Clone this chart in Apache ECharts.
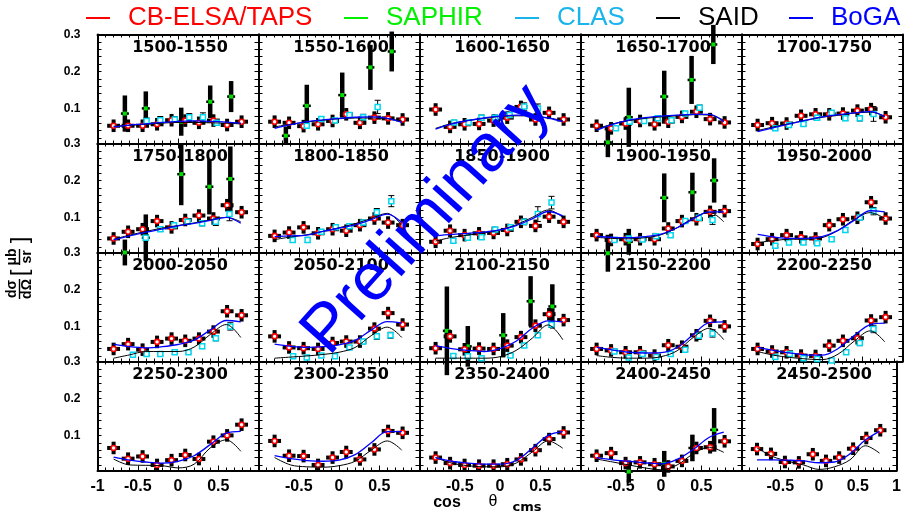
<!DOCTYPE html>
<html>
<head>
<meta charset="utf-8">
<script src="https://cdn.jsdelivr.net/npm/echarts@6/dist/echarts.min.js"></script>
<style>
  html, body { margin: 0; padding: 0; background: #fff; }
  #chart { width: 904px; height: 512px; }
</style>
</head>
<body>
<div id="chart"></div>
<script>
// Energy bins (MeV), one panel each
const BINS = ['1500-1550', '1550-1600', '1600-1650', '1650-1700', '1700-1750',
              '1750-1800', '1800-1850', '1850-1900', '1900-1950', '1950-2000',
              '2000-2050', '2050-2100', '2100-2150', '2150-2200', '2200-2250',
              '2250-2300', '2300-2350', '2350-2400', '2400-2450', '2450-2500'];

// CB-ELSA/TAPS angular bins (cos theta_cms) and cross sections (ub/sr)
const ELSA_COS = [-0.8, -0.62, -0.44, -0.26, -0.08, 0.09, 0.26, 0.44, 0.61, 0.79];
const ELSA = [
  [0.053, 0.053, 0.053, 0.057, 0.068, 0.067, 0.061, 0.067, 0.055, 0.064],
  [0.064, 0.061, 0.052, 0.057, 0.066, 0.084, 0.061, 0.075, 0.073, 0.070],
  [0.097, 0.050, 0.057, 0.058, 0.067, 0.075, 0.104, 0.070, 0.088, 0.070],
  [0.053, 0.046, 0.059, 0.066, 0.057, 0.064, 0.077, 0.091, 0.071, 0.062],
  [0.055, 0.060, 0.059, 0.080, 0.084, 0.084, 0.086, 0.094, 0.098, 0.076],
  [0.043, 0.061, 0.068, 0.090, 0.073, 0.093, 0.105, 0.097, 0.133, 0.114],
  [0.050, 0.059, 0.073, 0.057, 0.068, 0.064, 0.079, 0.097, 0.086, 0.079],
  [0.034, 0.064, 0.052, 0.057, 0.058, 0.066, 0.088, 0.077, 0.102, 0.088],
  [0.052, 0.039, 0.041, 0.041, 0.041, 0.070, 0.090, 0.095, 0.115, 0.117],
  [0.028, 0.041, 0.052, 0.046, 0.043, 0.079, 0.095, 0.099, 0.141, 0.097],
  [0.039, 0.052, 0.037, 0.058, 0.067, 0.061, 0.067, 0.086, 0.141, 0.130],
  [0.073, 0.043, 0.041, 0.039, 0.055, 0.059, 0.059, 0.094, 0.136, 0.105],
  [0.041, 0.073, 0.038, 0.040, 0.039, 0.048, 0.071, 0.102, 0.133, 0.117],
  [0.039, 0.035, 0.030, 0.030, 0.021, 0.049, 0.045, 0.076, 0.115, 0.100],
  [0.039, 0.032, 0.030, 0.021, 0.020, 0.048, 0.061, 0.068, 0.116, 0.125],
  [0.066, 0.037, 0.043, 0.020, 0.033, 0.047, 0.036, 0.083, 0.100, 0.129],
  [0.085, 0.045, 0.044, 0.020, 0.040, 0.055, 0.035, 0.062, 0.112, 0.107],
  [0.040, 0.025, 0.020, 0.018, 0.018, 0.022, 0.035, 0.060, 0.090, 0.108],
  [0.045, 0.052, 0.025, 0.027, 0.022, 0.016, 0.031, 0.066, 0.068, 0.084],
  [0.063, 0.050, 0.028, 0.027, 0.049, 0.031, 0.040, 0.064, 0.093, 0.114]
];
const ELSA_DCOS = 0.08;   // half bin width
const ELSA_ERR = 0.017;   // statistical error

// SAPHIR points: [cos, value, error]
const SAPHIR = [
  [[-0.66, 0.086, 0.049], [-0.4, 0.100, 0.046], [0.04, 0.064, 0.038], [0.4, 0.118, 0.044], [0.66, 0.132, 0.042]],
  [[-0.66, 0.026, 0.025], [-0.4, 0.107, 0.057], [0.04, 0.136, 0.061], [0.39, 0.211, 0.061], [0.655, 0.254, 0.054]],
  [],
  [[-0.66, 0.008, 0.040], [-0.4, 0.076, 0.080], [0.04, 0.132, 0.070], [0.38, 0.177, 0.065], [0.65, 0.273, 0.053]],
  [],
  [[-0.66, 0.005, 0.035], [-0.4, 0.045, 0.063], [0.04, 0.217, 0.084], [0.39, 0.183, 0.075], [0.65, 0.204, 0.088]],
  [], [],
  [[-0.66, 0.003, 0.050], [-0.4, 0.034, 0.035], [0.04, 0.153, 0.066], [0.39, 0.168, 0.053], [0.66, 0.200, 0.060]],
  [], [], [],
  [[-0.66, 0.088, 0.120], [-0.4, 0.046, 0.055], [0.04, 0.076, 0.060], [0.38, 0.168, 0.068], [0.65, 0.154, 0.060]],
  [], [], [], [], [],
  [[-0.4, 0.002, 0.030], [0.04, 0.023, 0.035], [0.39, 0.066, 0.036], [0.66, 0.115, 0.059]],
  []
];

// CLAS points: [cos, value, error]
const CLAS = [
  [[-0.39, 0.066, 0.008], [-0.22, 0.068, 0.010], [-0.04, 0.070, 0.008], [0.14, 0.076, 0.010], [0.31, 0.076, 0.012], [0.48, 0.061, 0.006]],
  [[-0.4, 0.053, 0.006], [-0.22, 0.071, 0.006], [-0.05, 0.067, 0.006], [0.13, 0.082, 0.006], [0.3, 0.076, 0.008], [0.48, 0.104, 0.018]],
  [[-0.57, 0.062, 0.006], [-0.39, 0.062, 0.006], [-0.23, 0.075, 0.007], [-0.06, 0.075, 0.007], [0.12, 0.082, 0.008], [0.3, 0.105, 0.010], [0.47, 0.100, 0.012]],
  [[-0.56, 0.046, 0.005], [-0.39, 0.064, 0.006], [-0.21, 0.066, 0.005], [-0.04, 0.073, 0.006], [0.13, 0.068, 0.006], [0.3, 0.086, 0.006], [0.48, 0.102, 0.007]],
  [[-0.58, 0.046, 0.005], [-0.41, 0.055, 0.005], [-0.23, 0.058, 0.005], [-0.06, 0.075, 0.006], [0.12, 0.088, 0.006], [0.29, 0.073, 0.006], [0.47, 0.073, 0.007], [0.64, 0.085, 0.020]],
  [[-0.4, 0.045, 0.008], [-0.22, 0.068, 0.006], [-0.05, 0.079, 0.006], [0.12, 0.088, 0.006], [0.3, 0.084, 0.007], [0.47, 0.088, 0.010], [0.64, 0.109, 0.018]],
  [[-0.575, 0.039, 0.006], [-0.39, 0.039, 0.007], [-0.22, 0.061, 0.005], [-0.04, 0.073, 0.007], [0.13, 0.076, 0.006], [0.3, 0.086, 0.007], [0.47, 0.114, 0.010], [0.65, 0.144, 0.015]],
  [[-0.58, 0.037, 0.005], [-0.4, 0.045, 0.005], [-0.23, 0.046, 0.005], [-0.06, 0.067, 0.006], [0.13, 0.073, 0.007], [0.3, 0.088, 0.008], [0.47, 0.109, 0.020], [0.64, 0.140, 0.017]],
  [[-0.58, 0.039, 0.005], [-0.4, 0.043, 0.005], [-0.23, 0.040, 0.005], [-0.06, 0.049, 0.005], [0.12, 0.052, 0.006], [0.3, 0.090, 0.006], [0.47, 0.099, 0.007], [0.64, 0.093, 0.012]],
  [[-0.58, 0.023, 0.004], [-0.41, 0.032, 0.005], [-0.23, 0.032, 0.005], [-0.06, 0.030, 0.005], [0.12, 0.041, 0.005], [0.29, 0.066, 0.006], [0.47, 0.100, 0.007], [0.64, 0.117, 0.010]],
  [[-0.56, 0.023, 0.004], [-0.39, 0.025, 0.004], [-0.22, 0.025, 0.004], [-0.04, 0.030, 0.005], [0.13, 0.030, 0.004], [0.3, 0.046, 0.006], [0.47, 0.068, 0.007], [0.65, 0.100, 0.010]],
  [[-0.57, 0.019, 0.004], [-0.4, 0.016, 0.004], [-0.22, 0.021, 0.004], [-0.05, 0.019, 0.004], [0.13, 0.043, 0.005], [0.3, 0.059, 0.006], [0.47, 0.073, 0.008], [0.64, 0.076, 0.008]],
  [[-0.58, 0.020, 0.004], [-0.4, 0.019, 0.004], [-0.23, 0.014, 0.004], [0.13, 0.021, 0.004], [0.3, 0.048, 0.005], [0.47, 0.076, 0.006], [0.64, 0.105, 0.008]],
  [[-0.58, 0.032, 0.004], [-0.4, 0.016, 0.004], [-0.23, 0.025, 0.004], [-0.06, 0.017, 0.004], [0.12, 0.025, 0.005], [0.3, 0.037, 0.005], [0.47, 0.075, 0.010], [0.64, 0.081, 0.010]],
  [[-0.58, 0.017, 0.004], [-0.4, 0.025, 0.004], [-0.23, 0.014, 0.004], [-0.06, 0.012, 0.004], [0.12, 0.008, 0.004], [0.3, 0.030, 0.005], [0.47, 0.055, 0.007], [0.64, 0.093, 0.010]],
  [], [], [], [], []
];

// Model curves sampled in cos theta_cms
const MODEL_COS = [-0.8, -0.6, -0.4, -0.2, 0, 0.2, 0.4, 0.6, 0.78];
const SAID = [
  [0.052, 0.054, 0.057, 0.060, 0.062, 0.062, 0.061, 0.060, 0.058],
  [0.050, 0.057, 0.063, 0.068, 0.072, 0.074, 0.074, 0.072, 0.066],
  [0.046, 0.059, 0.067, 0.073, 0.078, 0.080, 0.079, 0.074, 0.067],
  [0.044, 0.058, 0.067, 0.073, 0.077, 0.080, 0.083, 0.082, 0.068],
  [0.040, 0.050, 0.059, 0.068, 0.076, 0.082, 0.087, 0.090, 0.079],
  [0.041, 0.052, 0.062, 0.071, 0.078, 0.085, 0.093, 0.100, 0.088],
  [0.040, 0.047, 0.053, 0.062, 0.072, 0.083, 0.097, 0.111, 0.078],
  [0.036, 0.046, 0.052, 0.058, 0.066, 0.080, 0.100, 0.120, 0.100],
  [0.046, 0.043, 0.042, 0.045, 0.053, 0.072, 0.098, 0.114, 0.088],
  [0.032, 0.037, 0.041, 0.041, 0.045, 0.065, 0.094, 0.113, 0.097],
  [0.014, 0.023, 0.032, 0.032, 0.032, 0.044, 0.078, 0.105, 0.070],
  [0.014, 0.017, 0.020, 0.024, 0.030, 0.043, 0.075, 0.098, 0.070],
  [0.014, 0.014, 0.014, 0.014, 0.018, 0.035, 0.068, 0.104, 0.064],
  [0.021, 0.016, 0.014, 0.014, 0.018, 0.034, 0.070, 0.095, 0.064],
  [0.032, 0.022, 0.016, 0.012, 0.010, 0.025, 0.060, 0.088, 0.058],
  [0.036, 0.020, 0.019, 0.018, 0.012, 0.022, 0.066, 0.088, 0.057],
  [0.040, 0.020, 0.015, 0.014, 0.018, 0.030, 0.060, 0.085, 0.060],
  [0.040, 0.025, 0.018, 0.015, 0.015, 0.025, 0.055, 0.085, 0.065],
  [0.036, 0.028, 0.020, 0.012, 0.007, 0.020, 0.050, 0.068, 0.054],
  [0.066, 0.043, 0.030, 0.020, 0.008, 0.015, 0.034, 0.072, 0.052]
];
const BOGA = [
  [0.050, 0.055, 0.058, 0.062, 0.065, 0.066, 0.065, 0.063, 0.060],
  [0.046, 0.056, 0.064, 0.069, 0.073, 0.076, 0.077, 0.073, 0.062],
  [0.044, 0.058, 0.067, 0.074, 0.079, 0.082, 0.080, 0.074, 0.064],
  [0.041, 0.057, 0.068, 0.075, 0.079, 0.082, 0.084, 0.084, 0.064],
  [0.037, 0.048, 0.058, 0.068, 0.077, 0.083, 0.088, 0.091, 0.077],
  [0.039, 0.050, 0.060, 0.068, 0.077, 0.084, 0.092, 0.100, 0.084],
  [0.048, 0.050, 0.052, 0.062, 0.071, 0.080, 0.094, 0.109, 0.086],
  [0.050, 0.054, 0.057, 0.060, 0.066, 0.078, 0.096, 0.116, 0.104],
  [0.049, 0.046, 0.045, 0.048, 0.055, 0.072, 0.096, 0.115, 0.115],
  [0.054, 0.047, 0.043, 0.043, 0.048, 0.065, 0.092, 0.118, 0.115],
  [0.052, 0.045, 0.042, 0.045, 0.051, 0.063, 0.090, 0.116, 0.112],
  [0.052, 0.046, 0.043, 0.045, 0.050, 0.062, 0.090, 0.113, 0.109],
  [0.048, 0.040, 0.035, 0.032, 0.040, 0.060, 0.095, 0.115, 0.112],
  [0.043, 0.036, 0.030, 0.028, 0.029, 0.043, 0.078, 0.110, 0.112],
  [0.043, 0.035, 0.028, 0.023, 0.022, 0.040, 0.075, 0.105, 0.109],
  [0.041, 0.033, 0.028, 0.025, 0.030, 0.045, 0.075, 0.106, 0.111],
  [0.045, 0.037, 0.032, 0.030, 0.033, 0.048, 0.080, 0.110, 0.110],
  [0.040, 0.030, 0.025, 0.022, 0.022, 0.032, 0.065, 0.100, 0.110],
  [0.040, 0.034, 0.030, 0.026, 0.023, 0.035, 0.062, 0.095, 0.109],
  [0.034, 0.034, 0.033, 0.031, 0.026, 0.028, 0.050, 0.088, 0.111]
];

// Axis tick labels
const Y_LABELS = [0.1, 0.2, 0.3];
const Y_TICKS = [0.02, 0.04, 0.06, 0.08, 0.1, 0.12, 0.14, 0.16, 0.18, 0.2, 0.22, 0.24, 0.26, 0.28];
const X_LABELS_FIRST = [-1, -0.5, 0, 0.5];
const X_LABELS_MID = [-0.5, 0, 0.5];
const X_LABELS_LAST = [-0.5, 0, 0.5, 1];

const LEGEND = [
  { name: 'CB-ELSA/TAPS', color: '#ff0000' },
  { name: 'SAPHIR', color: '#00f000' },
  { name: 'CLAS', color: '#1ab4ec' },
  { name: 'SAID', color: '#000000' },
  { name: 'BoGA', color: '#0000ff' }
];

// ---- layout ----
const PANEL_LEFT = 97.5, PANEL_TOP = 34.5, PANEL_W = 161, PANEL_H = 109;
const Y_MIN = 0.005, Y_MAX = 0.3;
const TICK_FONT = '"Liberation Sans", Arial, sans-serif';
const TITLE_FONT = '"DejaVu Sans", sans-serif';

const grids = [], xAxes = [], yAxes = [], series = [], titles = [];

function renderElsa(params, api) {
  const x = api.value(0), y = api.value(1);
  const c = api.coord([x, y]);
  const l = api.coord([x - ELSA_DCOS, y]), r = api.coord([x + ELSA_DCOS, y]);
  const t = api.coord([x, y + ELSA_ERR]), b = api.coord([x, y - ELSA_ERR]);
  return { type: 'group', children: [
    { type: 'line', shape: { x1: l[0], y1: c[1], x2: r[0], y2: c[1] }, style: { stroke: '#000', lineWidth: 4 } },
    { type: 'line', shape: { x1: c[0], y1: t[1], x2: c[0], y2: b[1] }, style: { stroke: '#000', lineWidth: 4 } },
    { type: 'circle', shape: { cx: c[0], cy: c[1], r: 2.5 }, style: { fill: '#fff', stroke: '#ff0000', lineWidth: 1.6 } }
  ] };
}

function renderSaphir(params, api) {
  const x = api.value(0), y = api.value(1), e = api.value(2);
  const c = api.coord([x, y]);
  const t = api.coord([x, y + e]), b = api.coord([x, y - e]);
  return { type: 'group', children: [
    { type: 'line', shape: { x1: c[0], y1: t[1], x2: c[0], y2: b[1] }, style: { stroke: '#000', lineWidth: 4.5 } },
    { type: 'line', shape: { x1: c[0] - 4, y1: c[1], x2: c[0] + 4, y2: c[1] }, style: { stroke: '#000', lineWidth: 2.5 } },
    { type: 'rect', shape: { x: c[0] - 2, y: c[1] - 2, width: 4, height: 4 }, style: { fill: '#00e000', stroke: null } }
  ] };
}

function renderClas(params, api) {
  const x = api.value(0), y = api.value(1), e = api.value(2);
  const c = api.coord([x, y]);
  const t = api.coord([x, y + e]), b = api.coord([x, y - e]);
  return { type: 'group', children: [
    { type: 'line', shape: { x1: c[0], y1: t[1], x2: c[0], y2: b[1] }, style: { stroke: '#000', lineWidth: 1 } },
    { type: 'line', shape: { x1: c[0] - 3, y1: t[1], x2: c[0] + 3, y2: t[1] }, style: { stroke: '#000', lineWidth: 1 } },
    { type: 'line', shape: { x1: c[0] - 3, y1: b[1], x2: c[0] + 3, y2: b[1] }, style: { stroke: '#000', lineWidth: 1 } },
    { type: 'rect', shape: { x: c[0] - 2.5, y: c[1] - 2.5, width: 5, height: 5 }, style: { fill: '#ffffff', stroke: '#00d8f0', lineWidth: 1.5 } }
  ] };
}

BINS.forEach((bin, i) => {
  const col = i % 5, row = Math.floor(i / 5);
  const left = PANEL_LEFT + col * PANEL_W, top = PANEL_TOP + row * PANEL_H;
  grids.push({ left: left, top: top, width: PANEL_W, height: PANEL_H, show: false });

  const xLabels = col === 0 ? X_LABELS_FIRST : (col === 4 ? X_LABELS_LAST : X_LABELS_MID);
  const axisLine = { show: true, onZero: false, lineStyle: { color: '#000', width: 2 } };
  xAxes.push({
    type: 'value', gridIndex: i, position: 'bottom', min: -1, max: 1, interval: 0.5,
    axisLine: axisLine,
    axisTick: { show: true, inside: true, length: 5, lineStyle: { color: '#000', width: 1 } },
    minorTick: { show: true, splitNumber: 5, length: 3, lineStyle: { color: '#000', width: 1 } },
    splitLine: { show: false },
    axisLabel: {
      show: row === 3, customValues: xLabels, margin: 8,
      formatter: v => String(v), color: '#000', fontSize: 16, fontWeight: 'bold', fontFamily: TICK_FONT
    }
  });
  xAxes.push({
    type: 'value', gridIndex: i, position: 'top', min: -1, max: 1, interval: 0.5,
    axisLine: axisLine,
    axisTick: { show: true, inside: true, length: 5, lineStyle: { color: '#000', width: 1 } },
    minorTick: { show: true, splitNumber: 5, length: 3, lineStyle: { color: '#000', width: 1 } },
    splitLine: { show: false }, axisLabel: { show: false }
  });
  yAxes.push({
    type: 'value', gridIndex: i, position: 'left', min: Y_MIN, max: Y_MAX,
    axisLine: axisLine,
    axisTick: { show: true, inside: true, length: 4, customValues: Y_TICKS, lineStyle: { color: '#000', width: 1 } },
    splitLine: { show: false },
    axisLabel: {
      show: col === 0, customValues: Y_LABELS, margin: 17,
      formatter: v => v.toFixed(1), color: '#000', fontSize: 12, fontWeight: 'bold', fontFamily: TICK_FONT
    }
  });
  yAxes.push({
    type: 'value', gridIndex: i, position: 'right', min: Y_MIN, max: Y_MAX,
    axisLine: axisLine,
    axisTick: { show: true, inside: true, length: 4, customValues: Y_TICKS, lineStyle: { color: '#000', width: 1 } },
    splitLine: { show: false }, axisLabel: { show: false }
  });

  titles.push({
    text: bin, left: left + PANEL_W / 2 + 2, top: top + 5, textAlign: 'center', padding: 0,
    textStyle: { fontSize: 16, fontWeight: 'bold', fontFamily: TITLE_FONT, color: '#000' }
  });

  const xi = 2 * i, yi = 2 * i;
  series.push({
    type: 'custom', name: 'CB-ELSA/TAPS', xAxisIndex: xi, yAxisIndex: yi, z: 3,
    renderItem: renderElsa, clip: false,
    data: ELSA[i].map((v, k) => [ELSA_COS[k], v])
  });
  series.push({
    type: 'custom', name: 'SAPHIR', xAxisIndex: xi, yAxisIndex: yi, z: 2,
    renderItem: renderSaphir, clip: false,
    data: SAPHIR[i]
  });
  series.push({
    type: 'custom', name: 'CLAS', xAxisIndex: xi, yAxisIndex: yi, z: 4,
    renderItem: renderClas, clip: false,
    data: CLAS[i]
  });
  series.push({
    type: 'line', name: 'SAID', xAxisIndex: xi, yAxisIndex: yi, z: 5,
    smooth: 0.35, symbol: 'none', lineStyle: { color: '#000', width: 1 },
    data: MODEL_COS.map((c, k) => [c, SAID[i][k]])
  });
  series.push({
    type: 'line', name: 'BoGA', xAxisIndex: xi, yAxisIndex: yi, z: 6,
    smooth: 0.35, symbol: 'none', lineStyle: { color: '#0000ff', width: 1.3 },
    data: MODEL_COS.map((c, k) => [c, BOGA[i][k]])
  });
});

// Legend row across the top
const LEGEND_X = [86, 344, 515, 656, 789];
const graphics = [];
LEGEND.forEach((item, k) => {
  const x0 = LEGEND_X[k];
  graphics.push({ type: 'line', shape: { x1: x0, y1: 18, x2: x0 + 24, y2: 18 }, style: { stroke: item.color, lineWidth: 2 } });
  graphics.push({ type: 'text', x: x0 + 42, y: 18, style: {
    text: item.name, fill: item.color, font: '26px "Liberation Sans", Arial, sans-serif',
    textAlign: 'left', align: 'left', textVerticalAlign: 'middle', verticalAlign: 'middle' } });
});

function ctext(t, x, y, font) {
  return { type: 'text', x: x, y: y, style: { text: t, fill: '#000', font: font, textAlign: 'center', align: 'center', textVerticalAlign: 'middle', verticalAlign: 'middle' } };
}

// x-axis title: cos theta_cms
graphics.push(ctext('cos', 447, 503, 'bold 16px "Liberation Sans", Arial, sans-serif'));
graphics.push(ctext('θ', 493, 502, '16px "Liberation Sans", Arial, sans-serif'));
graphics.push(ctext('cms', 527, 508, 'bold 13px "DejaVu Sans", sans-serif'));

// y-axis title: dsigma/dOmega [ub/sr], rotated
const F14 = 'bold 14px "Liberation Sans", Arial, sans-serif';
graphics.push({
  type: 'group', x: 19, y: 268, rotation: Math.PI / 2,
  children: [
    ctext('dσ', -21, -7, F14),
    { type: 'line', shape: { x1: -31, y1: 0.5, x2: -11, y2: 0.5 }, style: { stroke: '#000', lineWidth: 1.4 } },
    ctext('dΩ', -21, 8, F14),
    ctext('[', -5, 1, '24px "Liberation Sans", Arial, sans-serif'),
    ctext('μb', 11, -7, F14),
    { type: 'line', shape: { x1: 3, y1: 0.5, x2: 19, y2: 0.5 }, style: { stroke: '#000', lineWidth: 1.4 } },
    ctext('sr', 11, 8, F14),
    ctext(']', 28, 1, '24px "Liberation Sans", Arial, sans-serif')
  ]
});

// Preliminary stamp
graphics.push({
  type: 'text', x: 427, y: 220, rotation: 0.84, z: 100,
  style: { text: 'Preliminary', fill: '#0000ff', font: '67px "Liberation Sans", Arial, sans-serif',
    textAlign: 'center', align: 'center', textVerticalAlign: 'middle', verticalAlign: 'middle' }
});

const chart = echarts.init(document.getElementById('chart'), null, { renderer: 'canvas' });
chart.setOption({
  animation: false,
  backgroundColor: '#fff',
  title: titles,
  grid: grids,
  xAxis: xAxes,
  yAxis: yAxes,
  series: series,
  graphic: { elements: graphics }
});
</script>
</body>
</html>
